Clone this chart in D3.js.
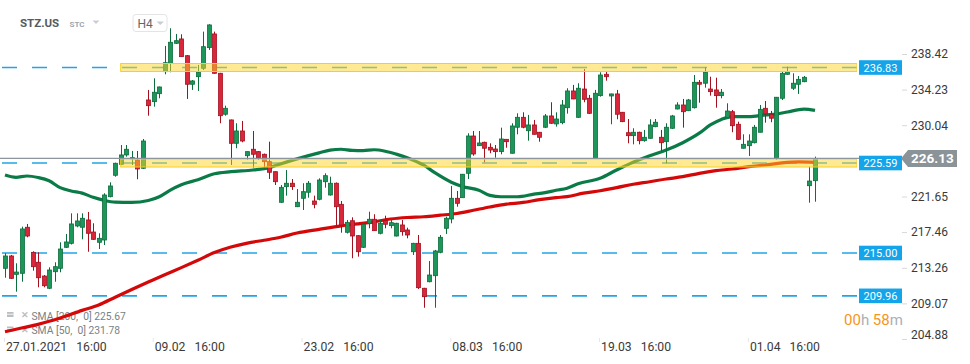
<!DOCTYPE html>
<html><head><meta charset="utf-8">
<script src="https://cdn.jsdelivr.net/npm/d3@7"></script>
<style>
html,body{margin:0;padding:0;background:#fff;}
svg{display:block;font-family:Roboto,"Noto Sans",Arial,sans-serif;}
</style></head><body>
<svg id="c" width="970" height="364"></svg>
<script>
// ---------- DATA ----------
const opens = [213.20,214.65,212.49,212.61,218.03,215.08,213.91,212.29,210.85,212.80,
213.20,215.67,216.14,218.18,218.03,218.89,217.47,216.26,216.53,221.63,
224.15,225.44,226.54,226.07,225.95,224.97,233.01,232.81,233.75,236.34,
237.33,239.68,240.19,238.22,234.86,235.75,236.74,239.17,240.78,236.15,
231.33,230.66,227.91,229.36,226.45,227.21,226.93,226.62,225.75,224.57,
220.97,222.81,223.21,220.45,221.44,222.15,221.12,221.32,223.39,221.83,
223.21,220.73,217.44,218.80,217.04,215.67,218.50,218.97,217.32,218.80,
218.22,217.00,218.30,217.71,215.15,216.14,210.85,211.62,212.33,215.08,
217.91,219.00,221.44,221.51,224.38,228.77,227.63,228.03,227.44,227.24,
226.93,228.38,226.74,229.80,230.97,229.39,230.07,229.21,229.80,231.13,
230.19,230.34,232.10,234.07,230.97,234.30,233.21,226.15,233.52,236.03,
233.48,233.72,231.56,229.16,228.81,229.21,228.22,228.50,229.87,228.62,
228.10,229.68,231.95,232.42,231.75,232.10,235.09,234.98,234.30,234.19,
233.52,230.92,231.63,230.15,227.33,227.63,227.98,229.21,232.03,231.33,
226.15,233.21,236.03,234.39,234.86,235.16,222.92,223.51];
const highs = [214.97,214.77,213.79,218.10,218.42,215.20,215.08,212.41,213.32,213.91,
216.26,217.24,219.67,219.67,219.67,219.83,218.50,217.32,222.03,223.32,
225.63,227.71,227.71,227.01,227.01,228.42,234.19,235.56,234.58,239.37,
241.45,240.78,240.74,238.30,235.36,237.13,241.05,241.92,241.05,236.20,
232.34,230.70,230.27,230.54,226.95,229.36,227.00,226.70,228.10,224.60,
223.00,224.77,223.71,222.53,223.21,223.47,221.75,223.79,224.38,223.98,
223.30,221.12,218.89,219.20,217.10,218.50,219.86,219.56,218.89,219.39,
219.00,218.55,218.89,217.98,216.20,217.12,210.90,214.06,215.36,217.12,
219.27,222.89,222.30,224.30,229.09,229.36,229.36,228.10,227.91,227.71,
229.75,228.40,230.27,231.44,231.56,231.25,230.66,229.25,231.36,232.74,
231.56,233.01,234.39,234.78,234.98,236.66,233.60,234.19,236.27,236.42,
233.75,234.19,231.60,230.77,229.68,229.28,229.48,230.74,230.77,229.48,
230.27,231.25,232.74,233.13,233.13,235.95,235.36,236.86,235.75,235.63,
234.30,232.62,231.83,230.46,228.97,228.97,230.07,232.42,232.89,231.72,
233.35,236.34,236.93,236.15,235.83,235.83,225.16,226.34];
const lows = [212.09,211.94,210.45,211.62,216.85,212.92,210.96,210.96,210.75,211.62,
212.73,215.60,216.00,218.03,216.61,215.15,216.55,215.47,215.94,221.55,
223.98,225.36,226.34,225.36,223.68,224.89,231.16,232.22,233.21,236.03,
236.27,239.60,238.10,233.13,234.19,234.07,236.54,238.90,236.10,230.27,
231.16,225.36,227.33,228.03,225.95,225.04,225.95,224.97,223.71,223.00,
220.90,221.75,222.42,220.40,220.06,221.51,220.26,221.20,222.69,221.75,
218.10,217.39,217.30,214.38,214.57,215.60,217.91,217.60,217.20,217.91,
217.91,216.95,217.04,216.73,214.77,210.76,208.56,211.55,208.56,214.97,
217.24,218.50,220.45,221.50,223.71,226.45,227.60,225.68,226.74,226.22,
226.62,227.39,226.70,228.97,229.68,228.22,228.95,228.10,229.70,230.20,
229.87,230.15,231.40,233.10,230.90,232.74,231.36,226.10,233.40,235.28,
230.15,230.74,230.40,227.91,227.79,227.79,228.10,228.45,229.80,227.01,
225.56,229.60,231.90,229.75,231.70,232.00,232.69,234.46,233.52,232.10,
233.21,230.90,229.21,228.30,227.30,226.42,227.90,229.20,230.34,230.39,
225.95,233.01,236.00,234.19,233.72,235.10,220.92,221.04];
const closes = [214.65,212.02,212.76,217.83,217.00,213.39,212.09,211.15,213.00,213.39,
215.47,216.30,218.42,218.77,219.09,217.32,216.61,216.73,221.83,222.89,
225.56,226.54,227.21,226.22,224.89,228.18,232.34,233.92,234.54,237.40,
239.80,239.99,238.11,234.86,235.25,236.27,239.28,241.84,236.15,231.16,
232.03,227.91,229.36,228.18,226.93,226.62,226.22,225.75,224.50,223.39,
222.73,223.21,222.81,220.97,222.22,223.21,220.73,223.59,224.10,223.21,
220.45,218.30,218.61,217.00,215.15,218.38,218.97,217.63,218.50,218.38,
218.57,218.50,217.51,217.12,216.14,210.92,209.86,212.41,215.24,216.85,
219.09,221.44,220.85,224.27,228.77,226.65,227.95,227.33,227.12,226.93,
228.42,228.10,229.95,230.97,229.80,230.07,228.97,228.62,231.13,230.27,
230.77,232.42,234.07,233.13,234.39,233.09,231.44,233.80,235.95,235.75,
233.72,231.33,230.46,228.81,229.21,228.22,228.62,230.07,230.39,227.98,
229.80,231.13,232.42,231.63,233.01,235.09,234.86,236.27,233.99,233.52,
233.92,231.71,229.98,228.38,227.79,228.18,229.80,231.91,231.36,230.86,
233.33,236.15,236.34,234.98,235.44,235.68,223.47,226.13];

const sma50Idx = [0,2,4,6,8,10,12,14,16,18,20,23,26,28,30,32,35,38,41,45,48,50,53,57,59,61,63,65,67,69,71,73,76,78,81,83,86,88,90,93,96,98,100,102,104,108,111,114,117,120,123,126,128,130,132,135,138,140,142,145,147];
const sma50Val = [224.18,223.91,224.06,223.88,223.50,222.69,222.30,222.05,221.55,221.20,220.99,220.95,221.18,221.62,222.40,223.03,223.62,224.32,224.57,224.77,225.05,225.48,226.08,226.79,227.10,227.21,227.08,227.05,227.15,226.98,226.64,226.22,225.33,224.45,223.33,222.83,222.38,221.78,221.62,221.62,221.92,222.10,222.38,222.62,223.15,223.79,224.77,225.68,226.45,227.12,227.98,229.10,230.07,230.72,231.05,231.05,231.25,231.36,231.60,231.93,231.78];
const sma200Idx = [0,3,6,10,14,17,20,23,26,29,32,35,38,41,44,47,50,53,57,61,64,67,70,73,76,79,82,85,88,91,94,97,100,102,105,108,111,114,117,120,123,126,129,132,135,138,141,144,147];
const sma200Val = [205.74,206.17,206.60,207.35,208.25,208.88,209.80,210.70,211.58,212.45,213.28,214.15,215.05,215.70,216.17,216.50,216.85,217.36,217.79,218.20,218.42,218.67,219.00,219.18,219.27,219.45,219.65,220.03,220.42,220.75,220.95,221.28,221.52,221.63,222.04,222.33,222.69,223.09,223.39,223.71,223.98,224.38,224.69,224.89,225.16,225.36,225.60,225.72,225.67];

const xTickIdx = [0,27,54,81,108,135];
const xTickDates = ["27.01.2021","09.02","23.02","08.03","19.03","01.04"];
const xTickTimes = ["16:00","16:00","16:00","16:00","16:00","16:00"];
const yTicks = [238.42,234.23,230.04,221.65,217.46,213.26,209.07,204.88];
const zoneLevels = [236.83, 225.59];
const zoneStartIdx = 21;
const lineLevels = [215.00, 209.96];
const currentPrice = 226.13;
const legendNames = ["SMA [200,  0]","SMA [50,  0]"];
const legendValues = [225.67, 231.78];
const symbol = "STZ.US", exchange = "STC", interval = "H4";
const countdown = ["00","h ","58","m"];

// ---------- DRAW ----------
const svg = d3.select("#c");
const plotW = 857, plotBottom = 339;
const x = d3.scaleLinear().domain([0, opens.length-1]).range([5, 815]);
const y = d3.scaleLinear().domain([204.88, 238.42]).range([339, 54]);
const fmt = d3.format(".2f");

svg.append("defs").append("clipPath").attr("id","clip")
  .append("rect").attr("x",0).attr("y",0).attr("width",plotW).attr("height",plotBottom);

// header
svg.append("text").attr("x",20).attr("y",27).attr("font-size",11.5).attr("font-weight",700)
  .attr("fill","#555b60").text(symbol);
svg.append("text").attr("x",69.5).attr("y",27).attr("font-size",8).attr("font-weight",700)
  .attr("fill","#9aa7b3").text(exchange);
svg.append("path").attr("d","M92.5,20.5 L99.5,20.5 L96,24 Z").attr("fill","#c9cdd1");
svg.append("rect").attr("x",133).attr("y",14.5).attr("width",34).attr("height",17).attr("rx",3)
  .attr("fill","#fff").attr("stroke","#e2e4e6");
svg.append("text").attr("x",137.5).attr("y",27.5).attr("font-size",12).attr("fill","#5f666b").text(interval);
svg.append("path").attr("d","M156.5,21.5 L164,21.5 L160.25,25 Z").attr("fill","#c9cdd1");

// legend
const lg = svg.append("g");
legendNames.forEach((n,i)=>{
  const by = 319.5 + i*14.5;
  lg.append("rect").attr("x",7).attr("y",by-7.5).attr("width",6.5).attr("height",5).attr("fill","#b9bec2");
  lg.append("rect").attr("x",7).attr("y",by-5.7).attr("width",6.5).attr("height",0.8).attr("fill","#fff");
  lg.append("text").attr("x",20.5).attr("y",by-1.5).attr("font-size",8.5).attr("font-weight",700)
    .attr("fill","#b9bec2").text("✕");
  lg.append("text").attr("x",31.5).attr("y",by).attr("font-size",10.3).attr("fill","#7a7f83")
    .style("white-space","pre").text(n + " " + fmt(legendValues[i]));
});

const plot = svg.append("g").attr("clip-path","url(#clip)");

// dashed horizontal levels
const allLevels = zoneLevels.concat(lineLevels);
plot.selectAll("line.lvl").data(allLevels).join("line").attr("class","lvl")
  .attr("x1",2).attr("x2",plotW).attr("y1",d=>y(d)).attr("y2",d=>y(d))
  .attr("stroke","#22a5e6").attr("stroke-width",1.6).attr("stroke-dasharray","15,15");

// SMA lines
const line = d3.line().curve(d3.curveMonotoneX).x(d=>x(d[0])).y(d=>y(d[1]));
plot.append("path").datum(sma200Idx.map((d,i)=>[d,sma200Val[i]])).attr("d",line)
  .attr("fill","none").attr("stroke","#d40808").attr("stroke-width",3.2).attr("stroke-linejoin","round");
plot.append("path").datum(sma50Idx.map((d,i)=>[d,sma50Val[i]])).attr("d",line)
  .attr("fill","none").attr("stroke","#0a7b47").attr("stroke-width",3.2).attr("stroke-linejoin","round");

// candles
const candles = opens.map((o,i)=>({i,o,h:highs[i],l:lows[i],c:closes[i]}));
const cg = plot.selectAll("g.cd").data(candles).join("g").attr("class","cd");
const up = d=>d.c>=d.o;
cg.append("line").attr("x1",d=>Math.round(x(d.i))+0.5).attr("x2",d=>Math.round(x(d.i))+0.5)
  .attr("y1",d=>y(d.h)).attr("y2",d=>y(d.l))
  .attr("stroke",d=>up(d)?"#0c6d3d":"#a3101e").attr("stroke-width",1);
cg.append("rect").attr("x",d=>Math.round(x(d.i))-1.5).attr("width",4)
  .attr("y",d=>y(Math.max(d.o,d.c))).attr("height",d=>Math.max(1,Math.abs(y(d.o)-y(d.c))))
  .attr("fill",d=>up(d)?"#1c9659":"#d9263a").attr("stroke",d=>up(d)?"#0c6d3d":"#a3101e").attr("stroke-width",0.8);

// zones
plot.selectAll("rect.zone").data(zoneLevels).join("rect").attr("class","zone")
  .attr("x",x(zoneStartIdx)).attr("width",plotW - x(zoneStartIdx))
  .attr("y",d=>y(d)-4).attr("height",8)
  .attr("fill","rgba(255,214,40,0.5)").attr("stroke","#f6d01e").attr("stroke-width",1);

// current price line
svg.append("line").attr("x1",0).attr("x2",902).attr("y1",y(currentPrice)).attr("y2",y(currentPrice))
  .attr("stroke","#8d969b").attr("stroke-width",1.3);

// y axis
const ya = svg.append("g").attr("transform","translate(902,0)")
  .call(d3.axisRight(y).tickValues(yTicks).tickSize(5).tickPadding(4).tickFormat(fmt));
ya.select(".domain").remove();
ya.selectAll(".tick line").attr("stroke","#d8d8d8");
ya.selectAll(".tick text").attr("font-size",12).attr("fill","#3a3a3a").attr("font-family","Roboto");
ya.selectAll(".tick").filter(d=>d===204.88).select("text").attr("dy","-0.05em");

// level badges
const badges = svg.selectAll("g.badge").data(allLevels).join("g").attr("class","badge");
badges.append("rect").attr("x",859).attr("width",43).attr("y",d=>y(d)-7.3).attr("height",14.6).attr("fill","#14a4ea");
badges.append("text").attr("x",880.5).attr("y",d=>y(d)+4).attr("text-anchor","middle")
  .attr("font-size",11).attr("fill","#fff").text(d=>fmt(d));

// current price badge
const cy = y(currentPrice);
svg.append("path").attr("d",`M901,${cy} L908,${cy-8.5} L957,${cy-8.5} L957,${cy+8.5} L908,${cy+8.5} Z`).attr("fill","#8a9398");
svg.append("text").attr("x",911).attr("y",cy+5).attr("font-size",13.5).attr("font-weight",700)
  .attr("fill","#fff").text(fmt(currentPrice));

// countdown
const cd = svg.append("text").attr("x",844).attr("y",324.5).attr("font-size",15);
countdown.forEach((t,i)=>cd.append("tspan").attr("fill", i%2===0?"#f7941d":"#a9b0b5").style("white-space","pre").text(t));

// x axis labels
const xa = svg.append("g");
xa.selectAll("line").data(xTickIdx).join("line")
  .attr("x1",d=>x(d)-0.5).attr("x2",d=>x(d)-0.5).attr("y1",338).attr("y2",342).attr("stroke","#e6e6e6");
const xt = xa.selectAll("text").data(xTickIdx).join("text")
  .attr("x",d=>x(d)+1).attr("y",351).attr("font-size",12.2).attr("fill","#3a3a3a");
xt.append("tspan").text((d,i)=>xTickDates[i]);
xt.append("tspan").attr("dx",9).text((d,i)=>xTickTimes[i]);
</script>
</body></html>
